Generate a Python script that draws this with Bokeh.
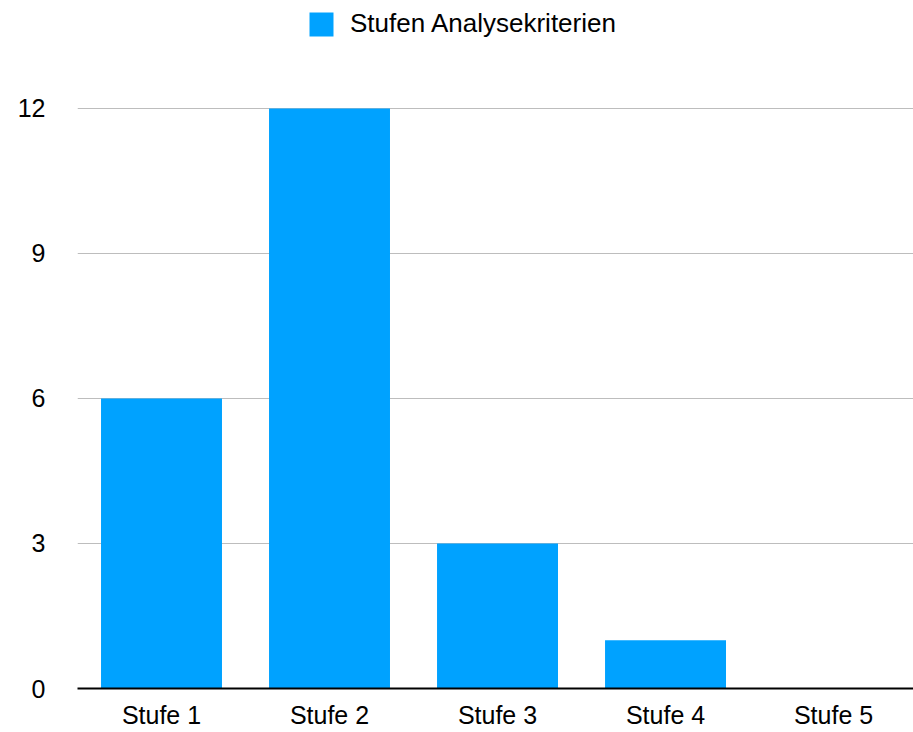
from bokeh.plotting import figure
from bokeh.models import Range1d, FixedTicker, Legend, LegendItem, ColumnDataSource
from bokeh.embed import file_html
from bokeh.resources import INLINE

categories = ["Stufe 1", "Stufe 2", "Stufe 3", "Stufe 4", "Stufe 5"]
values = [6, 12, 3, 1, 0]
y_ticks = [0, 3, 6, 9, 12]
series_name = "Stufen Analysekriterien"

FONT = "Liberation Sans"
BLUE = "#00A2FF"

xs = list(range(len(categories)))
src = ColumnDataSource(dict(x=xs, top=values, cat=categories))

# frame spans the whole height above the axis so the legend sits inside it
p = figure(width=913, height=732, output_backend="svg", toolbar_location=None,
           x_range=Range1d(-0.5, 4.476), y_range=Range1d(0, 14.234),
           min_border_left=77, min_border_right=0, min_border_top=0,
           min_border_bottom=44)
p.outline_line_color = None
p.background_fill_color = "white"
p.border_fill_color = "white"

r = p.vbar(x="x", top="top", width=0.72, bottom=0, source=src,
           fill_color=BLUE, line_color=None)

# x axis
p.xaxis.ticker = FixedTicker(ticks=xs)
p.xaxis.major_label_overrides = {i: c for i, c in enumerate(categories)}
p.xaxis.axis_line_color = "black"
p.xaxis.axis_line_width = 2
p.xaxis.major_tick_line_color = None
p.xaxis.major_tick_out = 0
p.xaxis.major_tick_in = 0
p.xaxis.minor_tick_line_color = None
p.xaxis.major_label_text_font = FONT
p.xaxis.major_label_text_font_size = "25px"
p.xaxis.major_label_text_color = "black"
p.xaxis.major_label_standoff = 12
p.xgrid.grid_line_color = None

# y axis
p.yaxis.ticker = FixedTicker(ticks=y_ticks)
p.yaxis.axis_line_color = None
p.yaxis.major_tick_line_color = None
p.yaxis.major_tick_out = 0
p.yaxis.major_tick_in = 0
p.yaxis.minor_tick_line_color = None
p.yaxis.major_label_text_font = FONT
p.yaxis.major_label_text_font_size = "25px"
p.yaxis.major_label_text_color = "black"
p.yaxis.major_label_standoff = 32
p.ygrid.grid_line_color = "#bdbdbd"
p.ygrid.grid_line_width = 1

legend = Legend(items=[LegendItem(label=series_name, renderers=[r])],
                location=(229, 649), orientation="horizontal",
                glyph_width=30, glyph_height=30, label_standoff=14,
                label_text_font=FONT, label_text_font_size="26px",
                label_text_color="black",
                label_height=30, padding=0, margin=0,
                border_line_color=None, background_fill_alpha=0)
p.add_layout(legend, "center")

open("out.html", "w").write(file_html(p, INLINE))
